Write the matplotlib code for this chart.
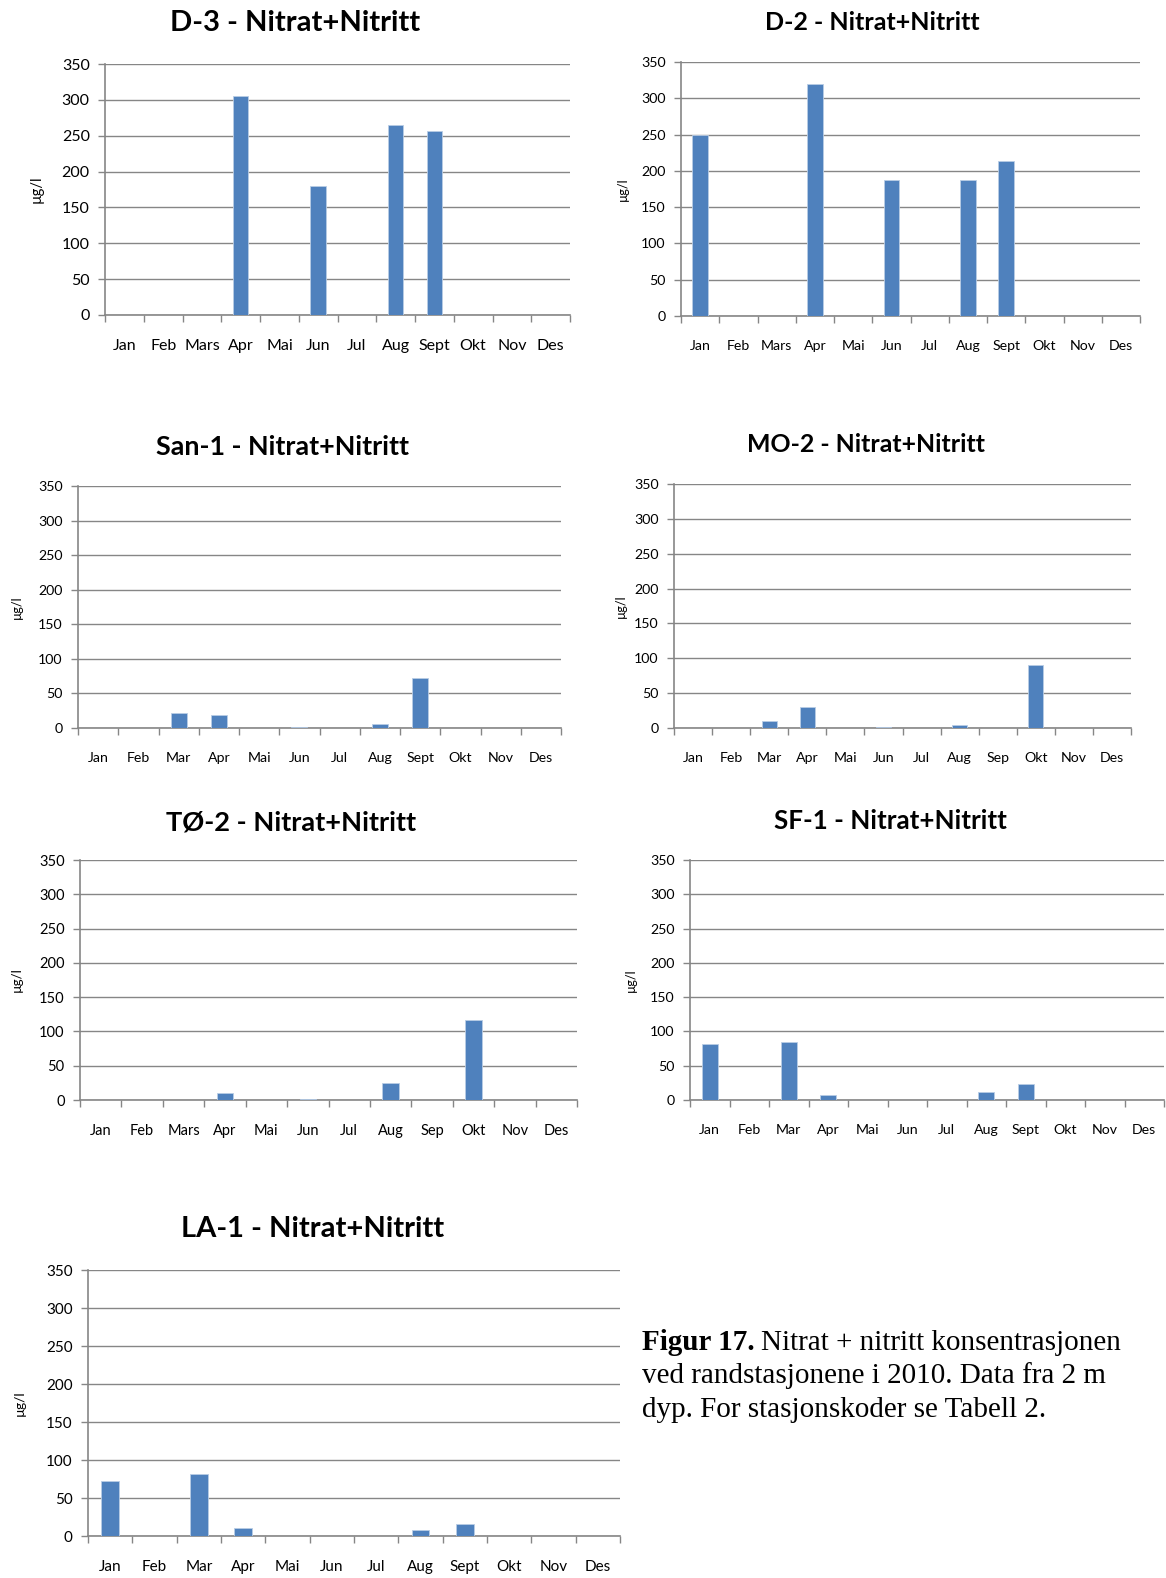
import matplotlib
matplotlib.use("Agg")
import matplotlib.pyplot as plt
import numpy as np

W, H = 1166, 1578
DPI = 100

months_a = ["Jan", "Feb", "Mars", "Apr", "Mai", "Jun", "Jul", "Aug", "Sept", "Okt", "Nov", "Des"]
months_b = ["Jan", "Feb", "Mar", "Apr", "Mai", "Jun", "Jul", "Aug", "Sept", "Okt", "Nov", "Des"]
months_c = ["Jan", "Feb", "Mar", "Apr", "Mai", "Jun", "Jul", "Aug", "Sep", "Okt", "Nov", "Des"]
months_d = ["Jan", "Feb", "Mars", "Apr", "Mai", "Jun", "Jul", "Aug", "Sep", "Okt", "Nov", "Des"]

d3_vals = [0, 0, 0, 305, 0, 180, 0, 265, 257, 0, 0, 0]
d2_vals = [250, 0, 0, 320, 0, 187, 0, 188, 213, 0, 0, 0]
san1_vals = [0, 0, 21, 19, 0, 2, 0, 6, 73, 0, 0, 0]
mo2_vals = [0, 0, 10, 30, 0, 2, 0, 4, 0, 90, 0, 0]
to2_vals = [0, 0, 0, 10, 0, 2, 0, 25, 0, 116, 0, 0]
sf1_vals = [81, 0, 84, 8, 0, 0, 0, 12, 23, 0, 0, 0]
la1_vals = [73, 0, 82, 10, 0, 0, 0, 8, 16, 0, 0, 0]

y_ticks = [0, 50, 100, 150, 200, 250, 300, 350]

BAR = "#4F81BD"
GRID = "#868686"
FONT = "Lato"

# (title, labels, values, L, R, T, B, title_x, title_y, ylab_x, tick_fs, title_fs)
panels = [
    ("D-3 - Nitrat+Nitritt", months_a, d3_vals, 105, 570, 64, 315, 295, 23, 37, 11.5, 21),
    ("D-2 - Nitrat+Nitritt", months_a, d2_vals, 681, 1140, 62, 316, 872, 22, 623, 10.2, 18),
    ("San-1 - Nitrat+Nitritt", months_b, san1_vals, 78, 561, 486, 728, 283, 447, 17, 10.2, 19.4),
    ("MO-2 - Nitrat+Nitritt", months_c, mo2_vals, 674, 1131, 484, 728, 866, 445, 621, 10.2, 17.9),
    ("TØ-2 - Nitrat+Nitritt", months_d, to2_vals, 80, 577, 860, 1100, 291, 822, 17, 10.5, 19.6),
    ("SF-1 - Nitrat+Nitritt", months_b, sf1_vals, 690, 1164, 860, 1100, 890, 821, 631, 10.2, 18.7),
    ("LA-1 - Nitrat+Nitritt", months_b, la1_vals, 88, 620, 1270, 1536, 313, 1229, 20, 11, 21),
]

fig = plt.figure(figsize=(W / DPI, H / DPI), dpi=DPI)
fig.patch.set_facecolor("white")

for title, labels, vals, L, R, T, B, tx, ty, yx, fs, tfs in panels:
    ax = fig.add_axes([L / W, 1 - B / H, (R - L) / W, (B - T) / H])
    x = np.arange(len(labels))
    ax.bar(x, vals, width=0.4, color=BAR, edgecolor="#B9CDE5", linewidth=0.6, zorder=3)
    ax.set_xlim(-0.5, len(labels) - 0.5)
    ax.set_ylim(0, 350)
    ax.set_yticks(y_ticks)
    ax.set_yticklabels([str(v) for v in y_ticks], fontsize=fs, family=FONT)
    ax.yaxis.grid(True, color=GRID, linewidth=1.0, zorder=0)
    ax.set_axisbelow(True)
    ax.set_xticks(np.arange(len(labels) + 1) - 0.5)
    ax.set_xticklabels([])
    ax.set_xticks(x, minor=True)
    ax.set_xticklabels(labels, minor=True, fontsize=fs, family=FONT)
    ax.tick_params(axis="x", which="major", length=5, color=GRID, width=1, direction="out")
    ax.tick_params(axis="x", which="minor", length=0, pad=17)
    ax.tick_params(axis="y", length=5, color=GRID, width=1, direction="out", pad=6)
    for s in ["top", "right"]:
        ax.spines[s].set_visible(False)
    for s in ["left", "bottom"]:
        ax.spines[s].set_color(GRID)
        ax.spines[s].set_linewidth(1.2)
    fig.text(tx / W, 1 - ty / H, title, ha="center", va="center",
             fontsize=tfs, fontweight="bold", family=FONT)
    fig.text(yx / W, 1 - ((T + B) / 2) / H, "µg/l", ha="center", va="center",
             rotation=90, fontsize=fs - 1, family=FONT)

cap_x = 642 / W
CAP_FS = 21
t1 = fig.text(cap_x, 1 - 1343 / H, "Figur 17.", ha="left", va="center", fontsize=CAP_FS,
              family="Liberation Serif", fontweight="bold")
fig.canvas.draw()
bb = t1.get_window_extent()
fig.text((bb.x1 + 6) / W, 1 - 1343 / H, "Nitrat + nitritt konsentrasjonen", ha="left",
         va="center", fontsize=CAP_FS, family="Liberation Serif")
fig.text(cap_x, 1 - 1376 / H, "ved randstasjonene i 2010. Data fra 2 m", ha="left",
         va="center", fontsize=CAP_FS, family="Liberation Serif")
fig.text(cap_x, 1 - 1410 / H, "dyp. For stasjonskoder se Tabell 2.", ha="left",
         va="center", fontsize=CAP_FS, family="Liberation Serif")

fig.savefig("out.png", dpi=DPI, facecolor="white")
